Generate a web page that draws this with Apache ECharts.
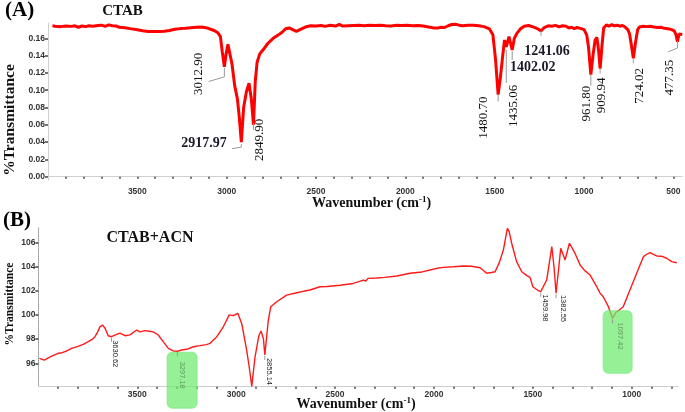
<!DOCTYPE html>
<html><head><meta charset="utf-8">
<script src="https://cdn.jsdelivr.net/npm/echarts@6/dist/echarts.min.js"></script>
<style>html,body{margin:0;padding:0;background:#fff}#c{width:685px;height:412px}</style>
</head><body><div id="c"></div>
<script>
// ---------- Panel A : CTAB ----------
const wnA = [3975,3960,3930,3900,3870,3850,3830,3810,3790,3770,3750,3720,3700,3680,3660,3640,3620,3600,3570,3540,3500,3470,3440,3410,3380,3350,3320,3290,3260,3230,3200,3170,3140,3110,3090,3070,3050,3035,3025,3012.90,3003,2993,2985,2970,2955,2940,2930,2917.97,2905,2890,2875,2862,2849.90,2840,2830,2815,2795,2770,2740,2710,2690,2670,2650,2630,2610,2590,2560,2530,2500,2470,2450,2420,2390,2370,2350,2320,2290,2260,2230,2200,2170,2140,2110,2080,2050,2020,1990,1960,1930,1900,1870,1840,1820,1800,1780,1760,1740,1720,1700,1680,1650,1620,1590,1560,1530,1510,1495,1480.70,1468,1455,1445,1435.06,1420,1410,1402.02,1390,1375,1355,1335,1310,1290,1270,1255,1241.06,1225,1200,1180,1160,1140,1120,1100,1085,1070,1055,1040,1020,1000,985,975,961.80,950,938,928,918,909.94,900,890,875,860,845,830,815,800,785,770,755,745,735,724.02,712,700,690,670,650,630,610,590,570,550,530,510,495,485,477.35,468,458,450];
const tA = [0.1745,0.1740,0.1735,0.1742,0.1738,0.1745,0.1728,0.1742,0.1735,0.1745,0.1740,0.1748,0.1752,0.1738,0.1755,0.1745,0.1742,0.1728,0.1722,0.1712,0.1700,0.1688,0.1680,0.1678,0.1680,0.1682,0.1690,0.1705,0.1712,0.1715,0.1722,0.1728,0.1730,0.1720,0.1705,0.1690,0.1665,0.1620,0.1450,0.1270,0.1420,0.1530,0.1520,0.1300,0.1050,0.0900,0.0700,0.0400,0.0800,0.0980,0.1080,0.0900,0.0600,0.1100,0.1320,0.1420,0.1470,0.1540,0.1600,0.1640,0.1670,0.1710,0.1720,0.1700,0.1680,0.1700,0.1730,0.1745,0.1742,0.1748,0.1738,0.1750,0.1742,0.1760,0.1742,0.1745,0.1748,0.1750,0.1745,0.1752,0.1748,0.1752,0.1745,0.1742,0.1750,0.1748,0.1750,0.1745,0.1748,0.1742,0.1730,0.1720,0.1718,0.1728,0.1725,0.1745,0.1760,0.1762,0.1752,0.1745,0.1750,0.1752,0.1745,0.1735,0.1710,0.1640,0.1350,0.0950,0.1150,0.1400,0.1580,0.1500,0.1620,0.1600,0.1465,0.1600,0.1660,0.1710,0.1740,0.1748,0.1735,0.1720,0.1705,0.1685,0.1720,0.1745,0.1740,0.1750,0.1732,0.1745,0.1740,0.1720,0.1728,0.1712,0.1725,0.1715,0.1700,0.1640,0.1500,0.1180,0.1400,0.1580,0.1610,0.1450,0.1250,0.1500,0.1720,0.1755,0.1740,0.1758,0.1745,0.1752,0.1740,0.1748,0.1730,0.1700,0.1650,0.1520,0.1370,0.1550,0.1700,0.1730,0.1740,0.1735,0.1740,0.1730,0.1725,0.1728,0.1715,0.1710,0.1700,0.1685,0.1640,0.1560,0.1650,0.1640,0.1645];
const peaksA = [3012.90,2917.97,2849.90,1480.70,1435.06,1402.02,1241.06,961.80,909.94,724.02,477.35];
const xLabA = [3500,3000,2500,2000,1500,1000,500];
const xTickA = [3900,3800,3700,3600,3500,3400,3300,3200,3100,3000,2900,2800,2700,2600,2500,2400,2300,2200,2100,2000,1900,1800,1700,1600,1500,1400,1300,1200,1100,1000,900,800,700,600,500];
const yTickA = [0.00,0.02,0.04,0.06,0.08,0.10,0.12,0.14,0.16];

// ---------- Panel B : CTAB+ACN ----------
const wnB = [3995,3970,3950,3930,3900,3880,3857,3832,3800,3773,3748,3730,3714,3700,3689,3675,3663,3647,3630.62,3604,3587,3562,3537,3503,3486,3461,3440,3419,3394,3369,3343,3318,3297.18,3270,3250,3217,3183,3150,3132,3098,3065,3035,3015,2992,2972,2947,2935,2921,2905,2885,2874,2862,2855.14,2838,2825,2795,2745,2694,2660,2627,2576,2540,2475,2408,2380,2357,2345,2332,2290,2250,2188,2121,2060,2020,1985,1953,1900,1852,1810,1767,1745,1733,1710,1691,1670,1649,1629,1620,1607,1582,1556,1530,1514,1500,1472,1459.98,1430,1404,1393,1382.55,1359,1337,1315,1287,1261,1240,1211,1177,1160,1144,1118,1097.42,1080,1068,1043,1009,975,941,920,907,890,874,850,823,798,772];
const tB = [96.41,96.27,96.45,96.62,96.83,96.88,97.02,97.24,97.40,97.57,97.79,97.95,98.20,98.60,99.02,99.16,98.90,98.28,98.20,98.40,98.50,98.28,98.35,98.75,98.60,98.70,98.65,98.60,98.34,97.79,97.24,97.02,97.00,97.12,97.16,97.37,97.46,97.55,97.65,98.20,99.02,100.00,99.94,100.13,99.30,97.10,95.80,94.10,96.50,98.30,98.67,98.00,96.69,99.50,100.68,101.09,101.64,101.83,101.95,102.06,102.33,102.35,102.45,102.60,102.75,102.88,102.80,103.02,103.05,103.10,103.21,103.44,103.55,103.71,103.85,103.93,103.98,104.04,104.02,103.90,103.60,103.44,103.50,103.57,104.30,105.36,107.15,106.90,105.92,104.40,103.57,103.25,103.10,102.33,102.00,101.92,102.88,105.64,103.98,101.79,105.50,104.54,105.92,105.10,104.12,103.70,103.30,102.33,101.80,101.50,100.68,99.72,100.20,100.35,100.68,102.06,103.44,104.81,105.05,105.14,105.00,104.87,104.85,104.68,104.40,104.31];
const peaksB = [3630.62,3297.18,2855.14,1459.98,1382.55,1097.42];
const boxedB = [3297.18,1097.42];
const xLabB = [3500,3000,2500,2000,1500,1000];
const xTickB = [3900,3800,3700,3600,3500,3400,3300,3200,3100,3000,2900,2800,2700,2600,2500,2400,2300,2200,2100,2000,1900,1800,1700,1600,1500,1400,1300,1200,1100,1000,900,800];
const yTickB = [96,98,100,102,104,106];

// ---------- layout / style ----------
const SERIF = 'Liberation Serif', SANS = 'Liberation Sans';
const layA = {
  '3012.90': {dx:-25.7, dy:7, rot:true, lead:[[0,1],[0,10],[-15.7,14.7]]},
  '2917.97': {dx:-14.7, dy:1, rot:false, align:'right', lead:[[0,2],[0,5],[-9.4,6.6]]},
  '2849.90': {dx:6, dy:15, rot:true, lead:[[0,-2],[0,5]]},
  '1480.70': {dx:-14.3, dy:23, rot:true, lead:[[0,0],[0,7]]},
  '1435.06': {dx:7.7, dy:59, rot:true, lead:[[0,3],[0,36]]},
  '1402.02': {dx:-2.3, dy:17.5, rot:false, align:'left', lead:[[0,1],[0,10]]},
  '1241.06': {dx:-16.7, dy:20.5, rot:false, align:'left', lead:[[0,0],[0,5]]},
  '961.80': {dx:-4.2, dy:29, rot:true, lead:[[0,0],[0,11]]},
  '909.94': {dx:1, dy:26.7, rot:true, lead:[[0,0],[0,5]]},
  '724.02': {dx:6, dy:27.7, rot:true, lead:[[0,1],[0,5]]},
  '477.35': {dx:-7.5, dy:35.8, rot:true, lead:[[0,-1],[0,6.3],[-9.3,10]]}
};
const layB = {
  '3630.62': {dx:4, dy:17},
  '3297.18': {dx:4.2, dy:24},
  '2855.14': {dx:4.5, dy:16.5},
  '1459.98': {dx:4.8, dy:16.3},
  '1382.55': {dx:6.8, dy:15.2},
  '1097.42': {dx:7.2, dy:17.7}
};
const boxLay = {
  '3297.18': {dx:-10.3, dy:1, w:30, h:56},
  '1097.42': {dx:-9.3, dy:-7.6, w:29, h:62.6}
};

const chart = echarts.init(document.getElementById('c'));
const axisLab = {fontSize:8.5, fontWeight:'bold', color:'#333', fontFamily:SANS};
chart.setOption({
  animation:false,
  grid:[{left:48, top:23, width:634.3, height:157},
        {left:38.4, top:228, width:639.8, height:158.7}],
  xAxis:[
    {gridIndex:0, type:'value', inverse:true, min:450, max:4000,
     axisLine:{show:true, lineStyle:{color:'#cfcfcf', width:1}},
     axisTick:{show:true, customValues:xTickA, length:2, lineStyle:{color:'#444', width:1.5}},
     axisLabel:Object.assign({customValues:xLabA, margin:7, formatter:v=>String(v)}, axisLab),
     splitLine:{show:false}},
    {gridIndex:1, type:'value', inverse:true, min:765, max:4000,
     axisLine:{show:true, lineStyle:{color:'#cfcfcf', width:1}},
     axisTick:{show:true, customValues:xTickB, length:2, lineStyle:{color:'#444', width:1.5}},
     axisLabel:Object.assign({customValues:xLabB, margin:3, formatter:v=>String(v)}, axisLab),
     splitLine:{show:false}}
  ],
  yAxis:[
    {gridIndex:0, type:'value', min:-0.0038, max:0.1777,
     axisLine:{show:true, lineStyle:{color:'#cfcfcf', width:1}},
     axisTick:{show:true, customValues:yTickA, length:3, lineStyle:{color:'#444', width:1.5}},
     axisLabel:Object.assign({customValues:yTickA, margin:3, formatter:v=>v.toFixed(2)}, axisLab),
     splitLine:{show:false}},
    {gridIndex:1, type:'value', min:94.07, max:107.18,
     axisLine:{show:true, lineStyle:{color:'#999', width:1, type:'dotted'}},
     axisTick:{show:true, customValues:yTickB, length:3, lineStyle:{color:'#444', width:1.5}},
     axisLabel:Object.assign({customValues:yTickB, margin:3, formatter:v=>String(v)}, axisLab),
     splitLine:{show:false}}
  ],
  series:[
    {type:'line', xAxisIndex:0, yAxisIndex:0, showSymbol:false, silent:true,
     lineStyle:{color:'#ff0000', width:3}, data:wnA.map((w,i)=>[w,tA[i]])},
    {type:'line', xAxisIndex:1, yAxisIndex:1, showSymbol:false, silent:true,
     lineStyle:{color:'#ff1a1a', width:1.4}, data:wnB.map((w,i)=>[w,tB[i]])}
  ]
});

function valAt(ws, ts, w){ let b=0; for(let i=0;i<ws.length;i++){ if(Math.abs(ws[i]-w)<Math.abs(ws[b]-w)) b=i; } return ts[b]; }
const g = [];
// static texts
g.push({type:'text', x:5, y:0, style:{text:'(A)', font:'bold 21px '+SERIF, fill:'#000'}});
g.push({type:'text', x:122.5, y:11, style:{text:'CTAB', font:'bold 15px '+SERIF, fill:'#111', textAlign:'center', textVerticalAlign:'middle'}});
g.push({type:'text', x:3, y:210, style:{text:'(B)', font:'bold 21px '+SERIF, fill:'#000'}});
g.push({type:'text', x:150, y:238, style:{text:'CTAB+ACN', font:'bold 16px '+SERIF, fill:'#111', textAlign:'center', textVerticalAlign:'middle'}});
g.push({type:'text', x:10, y:120, rotation:Math.PI/2, style:{text:'%Transmittance', font:'bold 15.5px '+SERIF, fill:'#111', textAlign:'center', textVerticalAlign:'middle'}});
g.push({type:'text', x:10, y:304, rotation:Math.PI/2, style:{text:'%Transmittance', font:'bold 11.5px '+SERIF, fill:'#111', textAlign:'center', textVerticalAlign:'middle'}});
[[371.5,203],[356,404]].forEach(p=>{
  g.push({type:'text', x:p[0], y:p[1], style:{text:'Wavenumber (cm{s|-1})', font:'bold 14px '+SERIF, fill:'#111', textAlign:'center', textVerticalAlign:'middle',
    rich:{s:{fontSize:9, fontWeight:'bold', fontFamily:SERIF, verticalAlign:'top', padding:[0,0,7,0]}}}});
});
// panel A peak labels
peaksA.forEach(w=>{
  const key = w.toFixed(2), L = layA[key];
  const p = chart.convertToPixel({gridIndex:0}, [w, valAt(wnA,tA,w)]);
  g.push({type:'polyline', shape:{points:L.lead.map(q=>[p[0]+q[0], p[1]+q[1]])}, style:{stroke:'#9a9a9a', lineWidth:1, fill:null}, z:5});
  if(L.rot){
    g.push({type:'text', x:p[0]+L.dx, y:p[1]+L.dy, rotation:Math.PI/2, z:6,
      style:{text:key, font:'13px '+SERIF, fill:'#111', textAlign:'center', textVerticalAlign:'middle'}});
  } else {
    g.push({type:'text', x:p[0]+L.dx, y:p[1]+L.dy, z:6,
      style:{text:key, font:'bold 14px '+SERIF, fill:'#1a1a2a', textAlign:L.align, textVerticalAlign:'middle'}});
  }
});
// panel B green boxes
boxedB.forEach(w=>{
  const key = w.toFixed(2), B = boxLay[key];
  const p = chart.convertToPixel({gridIndex:1}, [w, valAt(wnB,tB,w)]);
  g.push({type:'rect', shape:{x:p[0]+B.dx, y:p[1]+B.dy, width:B.w, height:B.h, r:5}, z:7,
    style:{fill:'rgba(110,236,110,0.72)', stroke:'rgba(110,230,110,0.6)', lineWidth:1}});
});
// panel B peak labels
peaksB.forEach(w=>{
  const key = w.toFixed(2), L = layB[key];
  const p = chart.convertToPixel({gridIndex:1}, [w, valAt(wnB,tB,w)]);
  const boxed = boxedB.indexOf(w) >= 0;
  g.push({type:'line', shape:{x1:p[0], y1:p[1]+1, x2:p[0], y2:p[1]+5}, style:{stroke:'#9a9a9a', lineWidth:1}, z:8});
  g.push({type:'text', x:p[0]+L.dx, y:p[1]+L.dy, rotation:-Math.PI/2, z:9,
    style:{text:key, font:'7.5px '+SANS, fill: boxed ? '#5f9a5f' : '#222', textAlign:'center', textVerticalAlign:'middle'}});
});
chart.setOption({graphic:{elements:g}});
</script>
</body></html>
